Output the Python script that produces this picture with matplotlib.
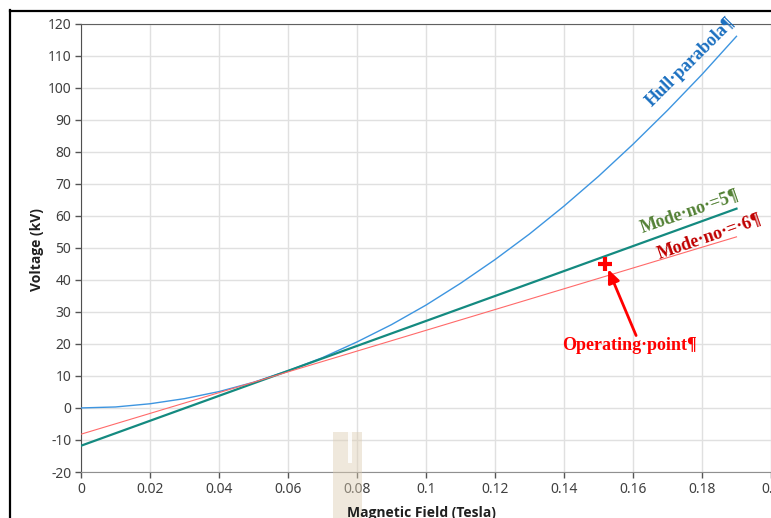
import matplotlib
matplotlib.use("Agg")
import matplotlib.pyplot as plt
from matplotlib.patches import Rectangle
from matplotlib.lines import Line2D

# ---- data ----
field_hull = [0.0, 0.01, 0.02, 0.03, 0.04, 0.05, 0.06, 0.07, 0.08, 0.09, 0.10,
              0.11, 0.12, 0.13, 0.14, 0.15, 0.16, 0.17, 0.18, 0.19]
voltage_hull = [0.0, 0.3, 1.3, 2.9, 5.1, 8.0, 11.6, 15.7, 20.6, 26.0, 32.1,
                38.9, 46.3, 54.3, 63.0, 72.3, 82.3, 92.9, 104.1, 116.0]
field_modes = [0.0, 0.19]
voltage_mode5 = [-11.8, 62.2]
voltage_mode6 = [-8.2, 53.4]
op_field = [0.152]
op_voltage = [45.0]

xticks = [0, 0.02, 0.04, 0.06, 0.08, 0.1, 0.12, 0.14, 0.16, 0.18, 0.2]
xtick_labels = ["0", "0.02", "0.04", "0.06", "0.08", "0.1", "0.12", "0.14", "0.16", "0.18", "0.2"]
yticks = [-20, -10, 0, 10, 20, 30, 40, 50, 60, 70, 80, 90, 100, 110, 120]
ytick_labels = [str(v) for v in yticks]

W, H = 771, 518
fig = plt.figure(figsize=(W / 100, H / 100), dpi=100)
fig.patch.set_facecolor("white")

ax_left, ax_right_02 = 81, 771
ax_top, ax_bot = 23.5, 472
xmax = 0.21
px_per_x = (ax_right_02 - ax_left) / 0.2
ax = fig.add_axes([ax_left / W, (H - ax_bot) / H,
                   xmax * px_per_x / W, (ax_bot - ax_top) / H])
ax.set_xlim(0, xmax)
ax.set_ylim(-20, 120)

tick_font = "Noto Sans"
ax.set_xticks(xticks)
ax.set_xticklabels(xtick_labels, fontsize=10, color="#404040", family=tick_font)
ax.set_yticks(yticks)
ax.set_yticklabels(ytick_labels, fontsize=10, color="#404040", family=tick_font)
ax.tick_params(axis="both", direction="out", length=4, width=1, color="#555555", pad=3)
ax.grid(True, color="#e0e0e0", lw=1)
ax.set_axisbelow(True)
ax.spines["right"].set_visible(False)
ax.spines["left"].set_color("#505050")
ax.spines["bottom"].set_color("#909090")
ax.spines["top"].set_color("#606060")

ax.plot(field_hull, voltage_hull, color="#3d95e0", lw=1.0, zorder=3)
ax.plot(field_modes, voltage_mode5, color="#148a80", lw=1.6, zorder=3)
ax.plot(field_modes, voltage_mode6, color="#ff6a6a", lw=0.8, zorder=3)
ax.plot(op_field, op_voltage, marker="+", ms=10, mew=3, color="#ff0000",
        ls="none", zorder=4)

serif = "Liberation Serif"
ax.text(0.1768, 108, "Hull·parabola¶", rotation=45, color="#1a6fc0",
        fontsize=13, fontweight="bold", family=serif, ha="center", va="center")
ax.text(0.1765, 61.5, "Mode·no·=5¶", rotation=19, color="#538135",
        fontsize=13, fontweight="bold", family=serif, ha="center", va="center")
ax.text(0.182, 53.5, "Mode·no·=·6¶", rotation=19, color="#c00000",
        fontsize=13, fontweight="bold", family=serif, ha="center", va="center")
ax.text(0.159, 19.5, "Operating·point¶", color="#ff0000",
        fontsize=13, fontweight="bold", family=serif, ha="center", va="center")
ax.annotate("", xy=(0.1528, 43.3), xytext=(0.1609, 22.6),
            arrowprops=dict(arrowstyle="-|>,head_length=0.8,head_width=0.35",
                            color="#ff0000", lw=2, shrinkA=0, shrinkB=0))

label_font = ["Open Sans", "DejaVu Sans"]
fig.text(37 / W, 1 - 250 / H, "Voltage (kV)", rotation=90, ha="center", va="center",
         fontsize=10, fontweight="bold", family=label_font, color="#202020", zorder=8)
fig.text(421 / W, 1.5 / H, "Magnetic Field (Tesla)", ha="center", va="baseline",
         fontsize=10, fontweight="bold", family=label_font, color="#202020", zorder=8)

# beige artifact
fig.patches.append(Rectangle((333 / W, 0), 29 / W, (H - 432) / H,
                             transform=fig.transFigure, facecolor="#dccdb2",
                             alpha=0.45, edgecolor="none", zorder=5))
fig.patches.append(Rectangle((348 / W, (H - 463) / H), 4 / W, 31 / H,
                             transform=fig.transFigure, facecolor="white",
                             alpha=0.85, edgecolor="none", zorder=6))

# black outer frame (left and top)
fig.lines.append(Line2D([10 / W, 10 / W], [0, 1 - 10 / H], transform=fig.transFigure,
                        color="black", lw=1.6, zorder=10))
fig.lines.append(Line2D([10 / W, 1], [1 - 11 / H, 1 - 11 / H], transform=fig.transFigure,
                        color="black", lw=1.6, zorder=10))

fig.savefig("out.png", dpi=100)
